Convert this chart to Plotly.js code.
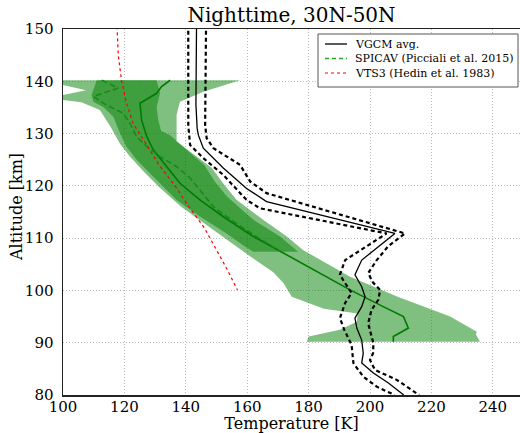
<!DOCTYPE html>
<html>
<head>
<meta charset="utf-8">
<script src="https://cdn.plot.ly/plotly-3.0.1.min.js"></script>
<style>html,body{margin:0;padding:0;background:#fff;overflow:hidden}#chart{width:520px;height:433px}</style>
</head>
<body>
<div id="chart"></div>
<script>
// VGCM average and envelope (altitude km, temperature K)
const vgcmAlt = [151, 145, 140, 135.5, 131, 129.7, 127.2, 123.4, 119.5, 117, 110.9, 105.8, 103, 100.7, 98.8, 96.9, 94.7, 92.8, 90.5, 88, 86.1, 84.2, 82.3, 80];
const vgcmT   = [143.5, 143.4, 143.3, 143.3, 143.7, 144.1, 145.7, 152.2, 159.8, 166.3, 208.1, 197.3, 195.1, 197.3, 198.4, 197.3, 195.1, 195.7, 197.3, 197.8, 197.3, 201.1, 206, 211];
const vgcmLoAlt = [151, 140, 131.6, 127.8, 125.3, 122.1, 117.3, 115.7, 110.9, 105.8, 103, 101.4, 99.5, 97.6, 94.7, 92.5, 89.6, 86.1, 83.5, 81.6, 80];
const vgcmLoT   = [140.8, 140.8, 140.8, 141.4, 145.7, 152.2, 159.8, 164.2, 205.4, 191.9, 190.2, 191.9, 194, 191.9, 190.2, 191.6, 194, 194.6, 197.8, 202.2, 208];
const vgcmHiAlt = [151, 140, 131.6, 129.1, 127.2, 124, 120.8, 118.6, 110.9, 108.5, 105.8, 103.3, 101.5, 100.1, 98.2, 96.3, 93.7, 89.9, 88, 86.7, 84.8, 82.9, 80];
const vgcmHiT   = [146.6, 146.5, 146.3, 146.8, 149, 157.7, 161, 166.3, 211.4, 206, 202.2, 199.4, 201, 203.3, 202.7, 200.5, 199.4, 201.1, 201, 200, 201.6, 208.7, 216];

// SPICAV profiles
const spicavAlt = [140.2, 139, 137.7, 136.1, 135.8, 132.6, 129.4, 126.9, 123.7, 120.5, 117.3, 114, 110.5, 107.1, 103.6, 100.1, 96.9, 95, 92.8, 91.2, 90.2];
const spicavT   = [134.9, 132.1, 130.5, 125.6, 125.1, 125.6, 127.3, 129.4, 133.8, 138.1, 144.6, 152.5, 161.5, 171.8, 182.6, 193.5, 204.3, 210.9, 212.5, 207.6, 207.6];
const spicavDashAlt = [140.2, 138.7, 137.1, 135.5, 133.9, 132, 129.4, 127.5, 125.6, 123.7, 121.5, 119, 116, 113, 110.3, 107.4];
const spicavDashT   = [112.6, 118, 109.9, 114, 119.6, 121.8, 124, 127.3, 131.6, 137, 141.4, 145, 149, 156, 163, 171];

// light band boundaries
const bandLeftAlt = [140.2, 139.5, 139.3, 138.3, 137.4, 137.2, 136.6, 136, 134.5, 131.3, 128.1, 125.6, 122.4, 119.8, 116, 112, 109, 106.5, 103.5, 101.4, 98.8, 96.5, 95.6, 94, 92.5, 91.2, 90.2];
const bandLeftT   = [95, 95, 100, 107.5, 100, 95, 97, 106, 112, 115.5, 118.5, 121.8, 126.8, 131.3, 138.5, 148, 155, 161, 168.5, 171.8, 174.5, 185, 196, 195.7, 190.2, 180, 179.4];
const bandRightAlt = [140.2, 138, 136.1, 133.6, 128.5, 126.5, 123.4, 120.2, 117.3, 113.5, 110.3, 107.7, 105.8, 102.6, 98.8, 95, 92.1, 91.6, 90.2];
const bandRightT   = [157.7, 145.7, 138.1, 137, 137, 141.4, 148.5, 152.5, 156.6, 165.2, 172.9, 178.3, 183.7, 193.5, 209, 226.1, 234.8, 234.5, 235.8];

// dark band boundaries
const coreLeftAlt = [140.2, 137.4, 136.1, 135.1, 133.2, 130, 127.5, 125, 122.4, 119.8, 117.3, 114, 111, 108.5, 107.4];
const coreLeftT   = [111, 109.3, 109.9, 113.1, 116.4, 118.6, 120.7, 124, 128.3, 132.7, 137, 145, 153, 159, 162];
const coreRightAlt = [140.2, 137.7, 135.1, 132.6, 130.5, 129.7, 127.2, 124, 120.8, 117.9, 113.5, 110.3, 107.4];
const coreRightT   = [130.5, 131.6, 130.5, 131, 132, 134.9, 139.7, 146, 149.5, 153.5, 162, 170.7, 176.6];

// VTS3 model
const vtsAlt = [150.5, 145, 140, 136, 132, 128, 124, 120, 116, 112, 108, 104, 100.1];
const vtsT   = [117.6, 118, 119.1, 120.6, 122.8, 127, 131.3, 136.5, 141, 146, 149.8, 153.5, 156.8];

const xTicks = [100, 120, 140, 160, 180, 200, 220, 240];
const yTicks = [80, 90, 100, 110, 120, 130, 140, 150];
const legendNames = ['VGCM avg.', 'SPICAV (Picciali et al. 2015)', 'VTS3 (Hedin et al. 1983)'];

function polygon(lx, ly, rx, ry) {
  return {x: lx.concat(rx.slice().reverse()), y: ly.concat(ry.slice().reverse())};
}
const band = polygon(bandLeftT, bandLeftAlt, bandRightT, bandRightAlt);
const core = polygon(coreLeftT, coreLeftAlt, coreRightT, coreRightAlt);

const serif = "'DejaVu Serif', 'Liberation Serif', serif";
const fillCol = 'rgba(0,128,0,0.5)';
const styles = [
  {color: '#000', width: 1.3, dash: 'solid'},
  {color: '#22a822', width: 1.5, dash: '4px,3px'},
  {color: '#ff0000', width: 1.2, dash: '3px,3px'}
];
const traces = [
  {x: band.x, y: band.y, type: 'scatter', mode: 'lines', fill: 'toself', fillcolor: fillCol, line: {width: 0}, hoverinfo: 'skip'},
  {x: core.x, y: core.y, type: 'scatter', mode: 'lines', fill: 'toself', fillcolor: fillCol, line: {width: 0}, hoverinfo: 'skip'},
  {x: spicavT, y: spicavAlt, type: 'scatter', mode: 'lines', line: {color: '#007a00', width: 1.6}},
  {x: spicavDashT, y: spicavDashAlt, type: 'scatter', mode: 'lines', name: legendNames[1],
   line: {color: '#178a17', width: 1.6, dash: '6px,3px'}},
  {x: vtsT, y: vtsAlt, type: 'scatter', mode: 'lines', name: legendNames[2],
   line: {color: '#ff0000', width: 1.2, dash: '3px,3px'}},
  {x: vgcmLoT, y: vgcmLoAlt, type: 'scatter', mode: 'lines', line: {color: '#000', width: 2.2, dash: '4px,3px'}},
  {x: vgcmHiT, y: vgcmHiAlt, type: 'scatter', mode: 'lines', line: {color: '#000', width: 2.2, dash: '4px,3px'}},
  {x: vgcmT, y: vgcmAlt, type: 'scatter', mode: 'lines', name: legendNames[0], line: {color: '#000', width: 1.3}}
];

// hand-built legend (paper coordinates of the plot area)
const L = 63, W = 457, B = 395, H = 366;
const px = v => (v - L) / W;
const py = v => (B - v) / H;
const rowY = [44, 58.5, 73];
const shapes = [{type: 'rect', xref: 'paper', yref: 'paper', x0: px(318), x1: px(518), y0: py(87), y1: py(34),
  line: {color: '#555', width: 1}, fillcolor: '#fff', layer: 'above'}];
const annotations = [];
legendNames.forEach((name, i) => {
  shapes.push({type: 'line', xref: 'paper', yref: 'paper', x0: px(325), x1: px(347), y0: py(rowY[i]), y1: py(rowY[i]),
    line: {color: styles[i].color, width: styles[i].width, dash: styles[i].dash}, layer: 'above'});
  annotations.push({xref: 'paper', yref: 'paper', x: px(353), y: py(rowY[i]), xanchor: 'left', yanchor: 'middle',
    text: name, showarrow: false, font: {family: serif, size: 11, color: '#000'}});
});
// y-axis title placed as in the reference
annotations.push({xref: 'paper', yref: 'paper', x: px(16), y: py(207), xanchor: 'center', yanchor: 'middle',
  text: 'Altitude [km]', textangle: -90, showarrow: false, font: {family: serif, size: 16, color: '#000'}});

const layout = {
  width: 520, height: 433,
  margin: {l: 63, r: 0, t: 29, b: 38, pad: 0},
  paper_bgcolor: '#fff', plot_bgcolor: '#fff',
  font: {family: serif, color: '#000', size: 15},
  showlegend: false,
  title: {text: 'Nighttime, 30N-50N', font: {family: serif, size: 20, color: '#000'}, x: 0.5, xref: 'paper', xanchor: 'center', y: 0.966, yref: 'container', yanchor: 'middle'},
  xaxis: {
    range: [100, 248.86], tickvals: xTicks, ticktext: xTicks.map(String),
    showgrid: true, gridcolor: '#bbbbbb', griddash: '1px,2px', gridwidth: 1,
    showline: true, linecolor: '#222', linewidth: 1.5, mirror: true,
    ticks: '', zeroline: false, tickfont: {family: serif, size: 15},
    ticklabelstandoff: -3,
    title: {text: 'Temperature [K]', font: {family: serif, size: 16}, standoff: 0}
  },
  yaxis: {
    range: [80, 150], tickvals: yTicks, ticktext: yTicks.map(String),
    showgrid: true, gridcolor: '#bbbbbb', griddash: '1px,2px', gridwidth: 1,
    showline: true, linecolor: '#222', linewidth: 1.5, mirror: false,
    ticks: '', zeroline: false, tickfont: {family: serif, size: 15},
    ticklabelstandoff: 5
  },
  shapes: shapes,
  annotations: annotations
};

Plotly.newPlot('chart', traces, layout, {staticPlot: true, displayModeBar: false});
</script>
</body>
</html>
